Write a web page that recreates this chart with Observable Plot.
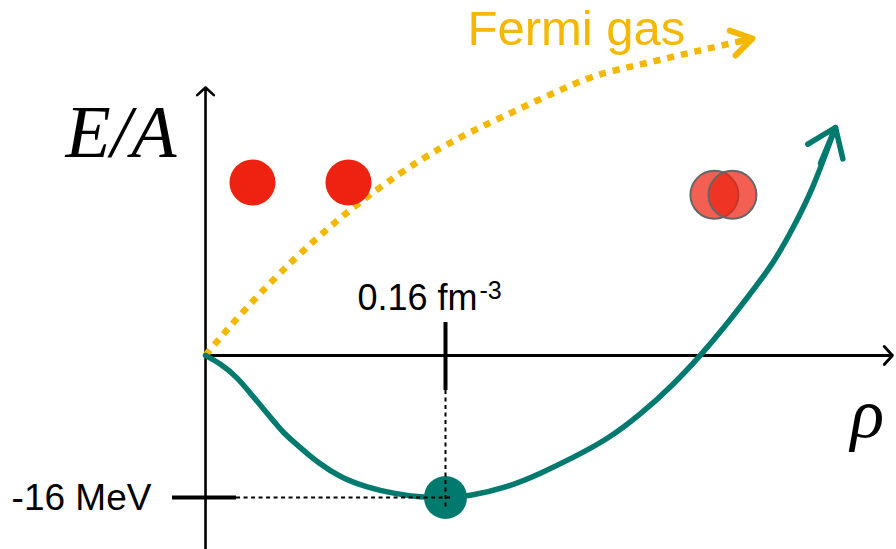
<!DOCTYPE html>
<html>
<head>
<meta charset="utf-8">
<script src="https://cdn.jsdelivr.net/npm/d3@7"></script>
<script src="https://cdn.jsdelivr.net/npm/@observablehq/plot@0.6"></script>
<style>
  html, body { margin: 0; padding: 0; background: #fff; }
  #chart svg { display: block; }
</style>
</head>
<body>
<div id="chart"></div>
<script>
// ---- data (density rho in fm^-3, energy per nucleon E/A in MeV) ----
// nuclear matter equation of state (teal curve)
const rho = [0, 0.010, 0.0213, 0.030, 0.0413, 0.052, 0.0633, 0.0747, 0.090, 0.108, 0.1253, 0.1433, 0.16,
             0.1747, 0.2013, 0.2233, 0.2453, 0.268, 0.290, 0.312, 0.330, 0.3453, 0.3613, 0.3787, 0.392, 0.4053, 0.4167, 0.420];
const ea  = [0, -0.9, -2.48, -4.28, -6.54, -8.79, -10.37, -12.06, -13.75, -14.87, -15.55, -16.0, -16.0,
             -15.89, -14.87, -13.30, -11.49, -9.46, -6.65, -3.27, 0, 3.04, 6.54, 10.37, 14.42, 18.93, 24.23, 25.69];
// free Fermi gas (yellow dotted curve)
const fermiRho = [0, 0.0053, 0.0113, 0.0167, 0.0367, 0.0633, 0.0967, 0.130, 0.1567, 0.1787, 0.190, 0.252, 0.272,
                  0.290, 0.308, 0.3253, 0.3413, 0.3647];
const fermiEa  = [0, 1.13, 2.25, 3.38, 7.10, 11.61, 16.56, 20.62, 23.44, 25.35, 26.25, 31.21, 32.11,
                  32.79, 33.52, 34.20, 34.82, 35.72];
// saturation point
const satRho = [0.16];
const satEa = [-16];
// nucleons far apart / overlapping
const freeRho = [0.0313, 0.0953];
const freeEa = [19.5, 19.5];
const overlapRho = [0.3393, 0.3513];
const overlapEa = [18.1, 18.1];
// frame
const xDomain = [-0.1367, 0.4607];
const yDomain = [-21.86, 40.0];
const xAxisEnd = 0.458;
const yAxisTop = 30.2;
// texts
const tickLabelRho = "0.16 fm";
const tickLabelRhoExp = "-3";
const tickLabelE = "-16 MeV";
const yTitle = "E/A";
const xTitle = "ρ";
const fermiLabel = "Fermi gas";

// ---- tables built from the arrays ----
const eos = rho.map((r, i) => ({rho: r, ea: ea[i]}));
const fermi = fermiRho.map((r, i) => ({rho: r, ea: fermiEa[i]}));
const sat = satRho.map((r, i) => ({rho: r, ea: satEa[i]}));
const free = freeRho.map((r, i) => ({rho: r, ea: freeEa[i]}));
const overlap = overlapRho.map((r, i) => ({rho: r, ea: overlapEa[i]}));

const nE = eos.length, nF = fermi.length;
const tealArrow = [{x1: eos[nE - 4].rho, y1: eos[nE - 4].ea, x2: eos[nE - 1].rho, y2: eos[nE - 1].ea}];
const yellowArrow = [{x1: fermi[nF - 5].rho, y1: fermi[nF - 5].ea, x2: fermi[nF - 1].rho, y2: fermi[nF - 1].ea}];

const TEAL = "#007a6e";
const YELLOW = "#f5b800";
const RED = "#ee2211";
const SANS = "Liberation Sans, Arial, Helvetica, sans-serif";
const SERIF = "Liberation Serif, Times New Roman, serif";

const chart = Plot.plot({
  width: 896,
  height: 549,
  marginTop: 0, marginRight: 0, marginBottom: 0, marginLeft: 0,
  x: {domain: xDomain, axis: null},
  y: {domain: yDomain, axis: null},
  style: {background: "#fff", overflow: "visible"},
  marks: [
    // axes
    Plot.arrow([{x1: 0, y1: 0, x2: xAxisEnd, y2: 0}], {x1: "x1", y1: "y1", x2: "x2", y2: "y2",
      stroke: "#000", strokeWidth: 2.8, headLength: 6.5, headAngle: 95}),
    Plot.arrow([{x1: 0, y1: yDomain[0], x2: 0, y2: yAxisTop}], {x1: "x1", y1: "y1", x2: "x2", y2: "y2",
      stroke: "#000", strokeWidth: 2.6, headLength: 6.5, headAngle: 95}),
    // Fermi gas dotted curve
    Plot.line(fermi, {x: "rho", y: "ea", stroke: YELLOW, strokeWidth: 6.5, strokeDasharray: "7,7",
      strokeLinecap: "butt", curve: "basis"}),
    Plot.arrow(yellowArrow, {x1: "x1", y1: "y1", x2: "x2", y2: "y2", stroke: YELLOW, strokeWidth: 6,
      headLength: 6, headAngle: 64, insetStart: 100}),
    // equation of state
    Plot.line(eos, {x: "rho", y: "ea", stroke: TEAL, strokeWidth: 5.5, curve: "basis"}),
    Plot.arrow(tealArrow, {x1: "x1", y1: "y1", x2: "x2", y2: "y2", stroke: TEAL, strokeWidth: 5.5,
      headLength: 8.8, headAngle: 72, insetStart: 70}),
    // saturation point
    Plot.dot(sat, {x: "rho", y: "ea", r: 21.5, fill: TEAL, stroke: "none"}),
    // guide lines
    Plot.ruleX(sat, {x: "rho", y1: 3.72, y2: -3.94, stroke: "#000", strokeWidth: 4}),
    Plot.ruleX(sat, {x: "rho", y1: -3.94, y2: -17.46, stroke: "#000", strokeWidth: 2, strokeDasharray: "4,3.5"}),
    Plot.ruleY(sat, {y: "ea", x1: -0.022, x2: 0.0207, stroke: "#000", strokeWidth: 4}),
    Plot.ruleY(sat, {y: "ea", x1: 0.0207, x2: 0.1633, stroke: "#000", strokeWidth: 2, strokeDasharray: "4,3.5"}),
    // nucleons
    Plot.dot(free, {x: "rho", y: "ea", r: 23, fill: RED, stroke: "none"}),
    Plot.dot(overlap, {x: "rho", y: "ea", r: 24, fill: RED, fillOpacity: 0.72, stroke: "#666", strokeWidth: 2}),
    // texts
    Plot.text([fermiLabel], {x: 0.1747, y: 34.93, text: d => d, fill: YELLOW, fontSize: 49,
      fontFamily: SANS, textAnchor: "start", lineAnchor: "bottom"}),
    Plot.text([yTitle], {x: -0.0933, y: 22.31, text: d => d, fill: "#000", fontSize: 74,
      fontFamily: SERIF, fontStyle: "italic", textAnchor: "start", lineAnchor: "bottom"}),
    Plot.text([xTitle], {x: 0.43, y: -9.13, text: d => d, fill: "#000", fontSize: 70,
      fontFamily: SERIF, fontStyle: "italic", textAnchor: "start", lineAnchor: "bottom"}),
    Plot.text([tickLabelRho], {x: 0.1013, y: 5.07, text: d => d, fill: "#000", fontSize: 36,
      fontFamily: SANS, textAnchor: "start", lineAnchor: "bottom"}),
    Plot.text([tickLabelRhoExp], {x: 0.1827, y: 6.31, text: d => d, fill: "#000", fontSize: 25,
      fontFamily: SANS, textAnchor: "start", lineAnchor: "bottom"}),
    Plot.text([tickLabelE], {x: -0.1293, y: -17.46, text: d => d, fill: "#000", fontSize: 37,
      fontFamily: SANS, textAnchor: "start", lineAnchor: "bottom"})
  ]
});
document.getElementById("chart").appendChild(chart);
</script>
</body>
</html>
